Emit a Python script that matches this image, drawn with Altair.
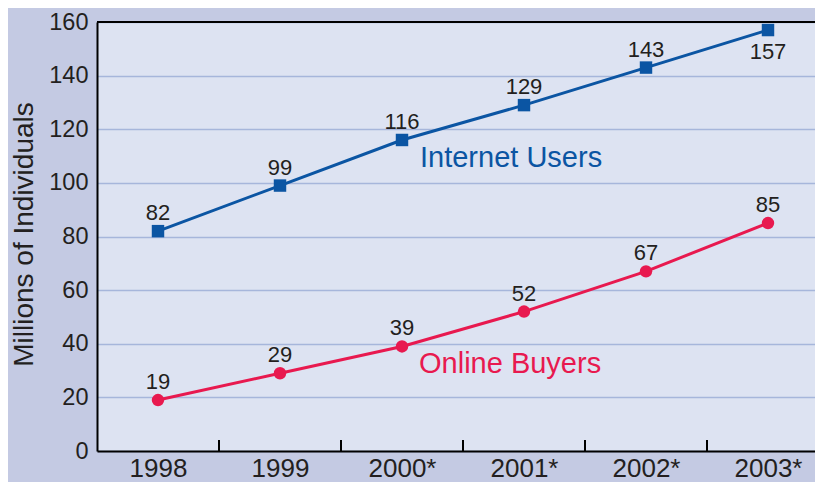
import altair as alt
import pandas as pd

# ---- data ----
years = ["1998", "1999", "2000*", "2001*", "2002*", "2003*"]
internet_users = [82, 99, 116, 129, 143, 157]
online_buyers = [19, 29, 39, 52, 67, 85]
series_names = ["Internet Users", "Online Buyers"]
y_ticks = [0, 20, 40, 60, 80, 100, 120, 140, 160]

BLUE = "#0b55a3"
RED = "#e8194f"
INK = "#231f20"
GRID = "#a6b6db"
OUTER_BG = "#c4cae3"
PLOT_BG = "#dde3f2"
FONT = "Liberation Sans"

df = pd.DataFrame({
    "year": years * 2,
    "value": internet_users + online_buyers,
    "series": [series_names[0]] * len(years) + [series_names[1]] * len(years),
})
df["below"] = (df["series"] == series_names[0]) & (df["year"] == years[-1])
years_df = pd.DataFrame({"year": years})

x_scale = alt.Scale(type="point", domain=years, range=[0, 732], padding=0.5)
y_scale = alt.Scale(domain=[0, 160], nice=False)

x_enc = alt.X(
    "year:N", scale=x_scale, sort=years,
    axis=alt.Axis(
        title=None, labelAngle=0, labelFontSize=26, labelFont=FONT, labelColor=INK,
        labelPadding=25, labelBaseline="alphabetic", ticks=False, tickSize=0,
        domainColor="black", domainWidth=2, grid=False,
    ),
)
y_enc = alt.Y(
    "value:Q", scale=y_scale,
    axis=alt.Axis(
        title="Millions of Individuals", values=y_ticks, labelFontSize=23.5,
        labelFont=FONT, labelColor=INK, labelPadding=9, ticks=False, tickSize=0,
        domainColor="black", domainWidth=2, grid=True, gridColor=GRID, gridWidth=1.5,
        titleFont=FONT, titleFontSize=28, titleFontWeight="normal", titleColor=INK,
        titleAngle=270, titleX=-65, titleY=212, titleAlign="center",
        titleBaseline="alphabetic",
    ),
)
color_enc = alt.Color("series:N", scale=alt.Scale(domain=series_names, range=[BLUE, RED]), legend=None)

base = alt.Chart(df)

lines = base.mark_line(strokeWidth=3).encode(x=x_enc, y=y_enc, color=color_enc, detail="series:N")
points = base.mark_point(filled=True, opacity=1, size=155).encode(
    x=alt.X("year:N", sort=years),
    y="value:Q",
    color=color_enc,
    shape=alt.Shape("series:N", scale=alt.Scale(domain=series_names, range=["square", "circle"]), legend=None),
)
labels_above = base.transform_filter("!datum.below").mark_text(
    font=FONT, fontSize=22, color=INK, dy=-11, baseline="alphabetic", align="center"
).encode(x=alt.X("year:N", sort=years), y="value:Q", text="value:Q")
labels_below = base.transform_filter("datum.below").mark_text(
    font=FONT, fontSize=22, color=INK, dy=29, baseline="alphabetic", align="center"
).encode(x=alt.X("year:N", sort=years), y="value:Q", text="value:Q")

ticks = alt.Chart(years_df).transform_filter(
    alt.datum.year != years[0]
).mark_rule(color="black", strokeWidth=2, xOffset=-61).encode(
    x=alt.X("year:N", sort=years), y=alt.value(418), y2=alt.value(429)
)

one = pd.DataFrame({"k": [0]})
top_border = alt.Chart(one).mark_rule(color="black", strokeWidth=2).encode(y=alt.datum(160))

name_internet = alt.Chart(one).mark_text(
    font=FONT, fontSize=29, color=BLUE, align="left", baseline="alphabetic", dx=18
).encode(x=alt.datum(years[2]), y=alt.datum(105.8), text=alt.value(series_names[0]))
name_buyers = alt.Chart(one).mark_text(
    font=FONT, fontSize=29, color=RED, align="left", baseline="alphabetic", dx=17
).encode(x=alt.datum(years[2]), y=alt.datum(29.2), text=alt.value(series_names[1]))

chart = alt.layer(
    lines, points, labels_above, labels_below, ticks, top_border, name_internet, name_buyers
).properties(
    width=718, height=429,
    autosize=alt.AutoSizeParams(type="none"),
    padding={"left": 89, "top": 14, "right": 0, "bottom": 31},
).configure(background=OUTER_BG).configure_view(stroke=None, fill=PLOT_BG)

chart.save("out.html", embed_options={"renderer": "svg", "actions": False})
